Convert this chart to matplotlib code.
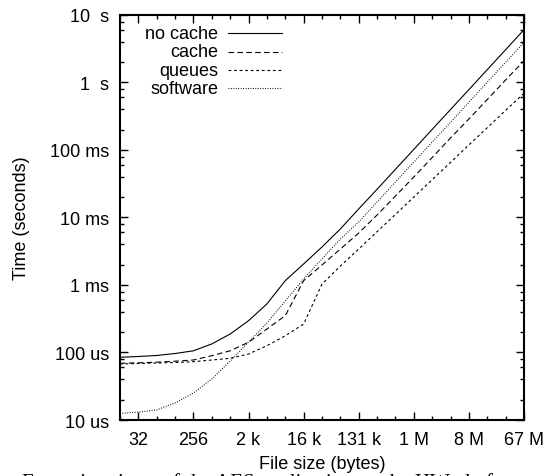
import matplotlib
matplotlib.use("Agg")
import matplotlib.pyplot as plt
from matplotlib.ticker import LogLocator, NullFormatter

plt.rcParams["font.family"] = ["Liberation Sans", "DejaVu Sans"]

# file sizes in bytes (one measurement per power of two)
sizes = [16, 32, 64, 128, 256, 512, 1024, 2048, 4096, 8192, 16384, 32768,
         65536, 131072, 262144, 524288, 1048576, 2097152, 4194304,
         8388608, 16777216, 33554432, 67108864]

# execution times in seconds
no_cache = [8.49e-5, 8.73e-5, 9.03e-5, 9.66e-5, 1.06e-4, 1.34e-4, 1.88e-4,
            2.96e-4, 5.24e-4, 1.16e-3, 2.05e-3, 3.66e-3, 6.76e-3, 1.34e-2,
            2.62e-2, 5.18e-2, 0.102, 0.202, 0.398, 0.785, 1.55, 3.06, 6.05]
cache = [6.92e-5, 7.03e-5, 7.18e-5, 7.43e-5, 7.74e-5, 8.97e-5, 1.06e-4,
         1.42e-4, 2.23e-4, 3.51e-4, 1.16e-3, 1.98e-3, 3.41e-3, 5.89e-3,
         1.09e-2, 2.08e-2, 3.98e-2, 7.74e-2, 0.151, 0.288, 0.560, 1.09, 2.10]
queues = [6.76e-5, 6.87e-5, 6.99e-5, 7.11e-5, 7.31e-5, 7.74e-5, 8.20e-5,
          9.50e-5, 1.26e-4, 1.77e-4, 2.64e-4, 1.03e-3, 1.91e-3, 3.41e-3,
          6.17e-3, 1.11e-2, 2.01e-2, 3.63e-2, 6.55e-2, 0.119, 0.214, 0.386, 0.692]
software = [1.25e-5, 1.31e-5, 1.41e-5, 1.79e-5, 2.51e-5, 4.05e-5, 7.48e-5,
            1.43e-4, 2.74e-4, 5.79e-4, 1.23e-3, 2.43e-3, 4.80e-3, 8.57e-3,
            1.70e-2, 3.36e-2, 6.64e-2, 0.131, 0.257, 0.509, 1.01, 1.99, 3.94]

labels = ["no cache", "cache", "queues", "software"]
styles = ["-", (0, (5, 3)), (0, (2.5, 2.5)), (0, (0.8, 1.4))]

x_ticks = [32, 256, 2048, 16384, 131072, 1048576, 8388608, 67108864]
x_labels = ["32", "256", "2 k", "16 k", "131 k", "1 M", "8 M", "67 M"]
y_ticks = [1e-5, 1e-4, 1e-3, 1e-2, 1e-1, 1, 10]
y_labels = ["10 us", "100 us", "1 ms", "10 ms", "100 ms", "1  s", "10  s"]

fig = plt.figure(figsize=(5.51, 4.77), dpi=100)
ax = fig.add_axes([0.2178, 0.1174, 0.7332, 0.8491])

series = [no_cache, cache, queues, software]
for data, ls in zip(series, styles):
    ax.plot(sizes, data, color="black", lw=0.8, linestyle=ls)

ax.set_xscale("log", base=2)
ax.set_yscale("log")
ax.set_xlim(16, 67108864)
ax.set_ylim(1e-5, 10)

ax.set_xticks(x_ticks, x_labels)
ax.set_xticks(sizes, minor=True)
ax.xaxis.set_minor_formatter(NullFormatter())
ax.set_yticks(y_ticks, y_labels)
ax.yaxis.set_minor_locator(LogLocator(base=10, subs=(2, 4, 6, 8)))
ax.yaxis.set_minor_formatter(NullFormatter())

ax.tick_params(which="both", direction="in", top=True, right=True,
               labelsize=13, width=1.0)
ax.tick_params(which="major", length=6, pad=8)
ax.tick_params(which="minor", length=3)
for sp in ax.spines.values():
    sp.set_linewidth(1.5)

ax.set_xlabel("File size (bytes)", fontsize=13, labelpad=5)
ax.set_ylabel("Time (seconds)", fontsize=13, labelpad=14)

# gnuplot-style key: right-aligned text followed by the line sample
for i, (lab, ls) in enumerate(zip(labels, styles)):
    yk = 0.955 - i * 0.0455
    ax.text(0.2426, yk, lab, ha="right", va="center", fontsize=13,
            transform=ax.transAxes)
    ax.plot([0.267, 0.401], [yk, yk], color="black", lw=0.8, linestyle=ls,
            transform=ax.transAxes)

# caption of the paper, cut off at the bottom edge
fig.text(0.04, -0.034, "Execution times of the AES application on the HW platform",
         family="Liberation Serif", fontsize=15, ha="left", va="bottom")

fig.savefig("out.png", dpi=100)
